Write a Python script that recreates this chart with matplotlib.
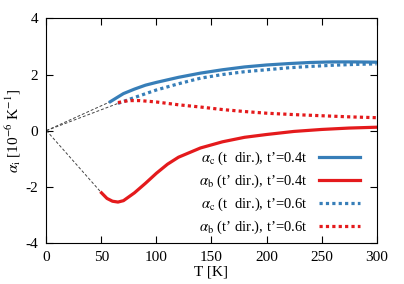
import matplotlib
matplotlib.use("Agg")
import matplotlib.pyplot as plt

plt.rcParams['font.family'] = ['Liberation Serif', 'DejaVu Serif']
plt.rcParams['mathtext.fontset'] = 'stix'
plt.rcParams['axes.unicode_minus'] = False

# alpha_c, t'=0.4t
T_c4 = [58, 65, 70, 80, 90, 100, 120, 140, 160, 180, 200, 220, 240, 260, 280, 300]
a_c4 = [1.03, 1.2, 1.32, 1.48, 1.62, 1.72, 1.9, 2.05, 2.17, 2.27, 2.34, 2.39, 2.43, 2.45, 2.45, 2.44]

# alpha_b, t'=0.4t
T_b4 = [50, 55, 60, 65, 70, 80, 90, 100, 110, 120, 140, 160, 180, 200, 225, 250, 275, 300]
a_b4 = [-2.22, -2.42, -2.52, -2.55, -2.5, -2.22, -1.88, -1.52, -1.2, -0.95, -0.62, -0.4,
        -0.24, -0.14, -0.03, 0.04, 0.09, 0.12]

# alpha_c, t'=0.6t
T_c6 = [65, 80, 100, 120, 140, 160, 180, 200, 220, 240, 260, 280, 300]
a_c6 = [0.97, 1.18, 1.45, 1.67, 1.87, 2.0, 2.1, 2.17, 2.24, 2.29, 2.33, 2.36, 2.38]

# alpha_b, t'=0.6t
T_b6 = [65, 75, 85, 100, 120, 140, 160, 180, 200, 225, 250, 275, 300]
a_b6 = [1.0, 1.07, 1.07, 1.02, 0.92, 0.84, 0.75, 0.68, 0.62, 0.57, 0.53, 0.49, 0.46]

labels = [r"$\alpha_{\rm c}$ (t  dir.), t’=0.4t",
          r"$\alpha_{\rm b}$ (t’ dir.), t’=0.4t",
          r"$\alpha_{\rm c}$ (t  dir.), t’=0.6t",
          r"$\alpha_{\rm b}$ (t’ dir.), t’=0.6t"]

blue = '#377eb8'
red = '#e41a1c'

fig = plt.figure(figsize=(4.04, 2.84), dpi=100)
ax = fig.add_axes([0.115, 0.1454, 0.817, 0.7896])

# dashed extrapolation to the origin
for T, a in [(T_c4, a_c4), (T_c6, a_c6), (T_b4, a_b4)]:
    ax.plot([0, T[0]], [0, a[0]], color='#444444', lw=0.7, ls=(0, (3, 2)))

ax.plot(T_c4, a_c4, color=blue, lw=2.3, label=labels[0])
ax.plot(T_b4, a_b4, color=red, lw=2.3, label=labels[1])
ax.plot(T_c6, a_c6, color=blue, lw=2.3, ls=(0, (1, 1)), label=labels[2])
ax.plot(T_b6, a_b6, color=red, lw=2.3, ls=(0, (1, 1)), label=labels[3])

ax.set_xlim(0, 300)
ax.set_ylim(-4, 4)
ax.set_xticks([0, 50, 100, 150, 200, 250, 300])
ax.set_yticks([-4, -2, 0, 2, 4])
ax.tick_params(direction='in', top=True, right=True, labelsize=11, length=5, pad=6)
ax.set_xlabel('T [K]', fontsize=11, labelpad=1)
ax.set_ylabel(r'$\alpha_{\rm i}$ [10$^{-6}$ K$^{-1}$]', fontsize=11, labelpad=2)

ax.legend(loc='lower right', bbox_to_anchor=(0.99, -0.03), frameon=False,
          markerfirst=False, fontsize=10.5, handlelength=2.8,
          labelspacing=0.4, handletextpad=0.8)

fig.savefig('out.png', dpi=100)
